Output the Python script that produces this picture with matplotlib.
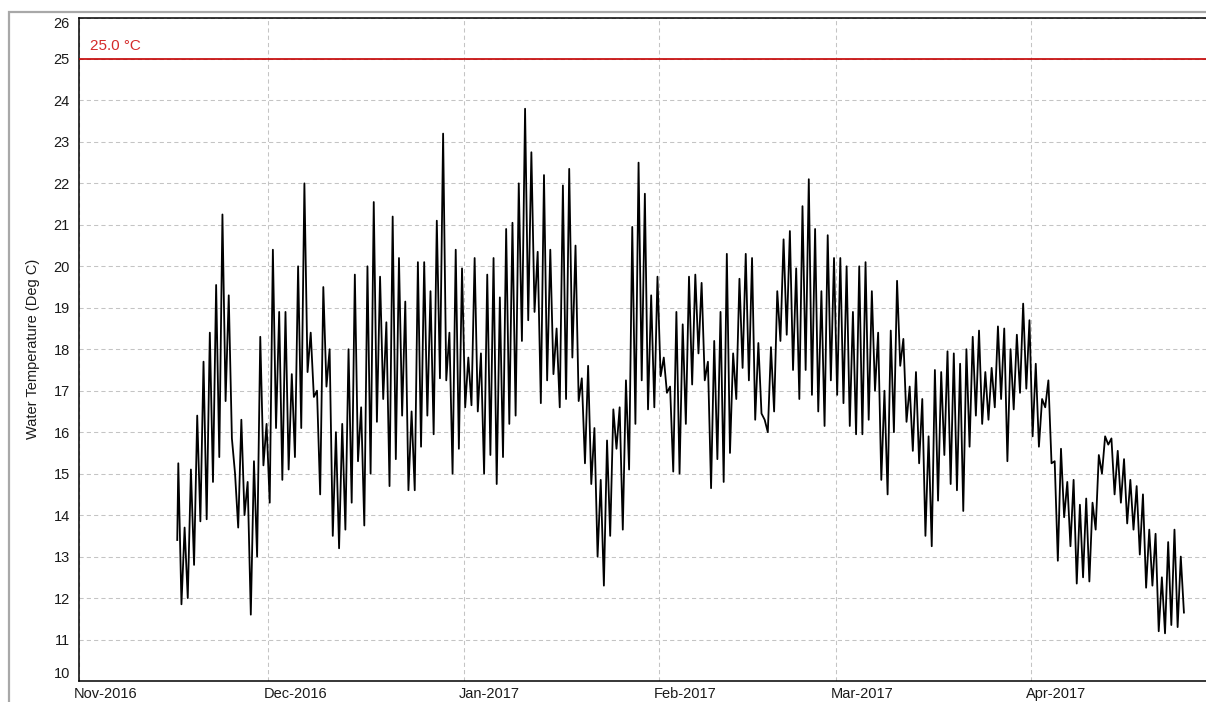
import numpy as np
import pandas as pd
import matplotlib
matplotlib.use("Agg")
import matplotlib.pyplot as plt
from matplotlib.patches import Rectangle

plt.rcParams['font.family'] = ['Liberation Sans', 'DejaVu Sans']

# daily peak and trough readings (deg C), one pair per day from 16 Nov 2016
day_high = [
    15.25, 13.7, 15.1, 16.4, 17.7, 18.4, 19.55, 21.25, 19.3, 15.0,
    16.3, 14.8, 15.3, 18.3, 16.2, 20.4, 18.9, 18.9, 17.4, 20.0,
    22.0, 18.4, 17.0, 19.5, 18.0, 16.0,
    16.2, 18.0, 19.8, 16.6, 20.0, 21.55, 19.75, 18.65, 21.2, 20.2,
    19.15, 16.5, 20.1, 20.1, 19.4, 21.1, 23.2, 18.4, 20.4, 19.95,
    17.8, 20.2, 17.9, 19.8, 20.2, 19.25, 20.9,
    21.05, 22.0, 23.8, 22.75, 20.35, 22.2, 20.4, 18.5, 21.95, 22.35,
    20.5, 17.3, 17.6, 16.1, 14.85, 15.8, 16.55, 16.6, 17.25, 20.95,
    22.5, 21.75, 19.3, 19.75, 17.8, 17.1, 18.9,
    18.6, 19.75, 19.8, 19.6, 17.7, 18.2, 18.9, 20.3, 17.9, 19.7,
    20.3, 20.2, 18.15, 16.3, 18.05, 19.4, 20.65, 20.85, 19.95, 21.45,
    22.1, 20.9, 19.4, 20.75, 20.2, 20.2, 20.0,
    18.9, 20.0, 20.1, 19.4, 18.4, 17.0, 18.45, 19.65, 18.25, 17.1,
    17.45, 16.8, 15.9, 17.5, 17.45, 17.95, 17.9, 17.65, 18.0, 18.3,
    18.45, 17.45, 17.55, 18.55, 18.5, 18.0, 18.35,
    19.1, 18.7, 17.65, 16.8, 17.25, 15.3, 15.6, 14.8, 14.85, 14.25,
    14.4, 14.3, 15.45, 15.9, 15.85, 15.55, 15.35, 14.85, 14.7, 14.5,
    13.65, 13.55, 12.5, 13.35, 13.65, 13.0,
]
day_low = [
    11.85, 12.0, 12.8, 13.85, 13.9, 14.8, 15.4, 16.75, 15.85, 13.7,
    14.0, 11.6, 13.0, 15.2, 14.3, 16.1, 14.85, 15.1, 15.4, 16.1,
    17.45, 16.85, 14.5, 17.1, 13.5, 13.2,
    13.65, 14.3, 15.3, 13.75, 15.0, 16.25, 16.8, 14.7, 15.35, 16.4,
    14.6, 14.6, 15.65, 16.4, 15.95, 17.3, 17.25, 15.0, 15.6, 16.6,
    16.65, 16.5, 15.0, 15.45, 14.75, 15.4, 16.2,
    16.4, 18.2, 18.7, 18.9, 16.7, 17.25, 17.4, 16.6, 16.8, 17.8,
    16.75, 15.25, 14.75, 13.0, 12.3, 13.5, 15.6, 13.65, 15.1, 16.2,
    17.25, 16.55, 16.6, 17.35, 16.95, 15.05, 15.0,
    16.2, 17.15, 17.9, 17.25, 14.65, 15.35, 14.8, 15.5, 16.8, 17.55,
    17.25, 16.3, 16.45, 16.0, 16.5, 18.2, 18.35, 17.5, 16.8, 17.5,
    16.9, 16.5, 16.15, 17.25, 16.9, 16.7, 16.15,
    15.95, 15.95, 16.3, 17.0, 14.85, 14.5, 16.0, 17.6, 16.25, 15.55,
    15.25, 13.5, 13.25, 14.35, 15.45, 14.75, 14.6, 14.1, 15.65, 16.4,
    16.2, 16.3, 16.6, 16.8, 15.3, 16.55, 16.95,
    17.05, 15.9, 15.65, 16.6, 15.25, 12.9, 13.95, 13.25, 12.35, 12.5,
    12.4, 13.65, 15.0, 15.7, 14.5, 14.3, 13.8, 13.65, 13.05, 12.25,
    12.3, 11.2, 11.15, 11.35, 11.3, 11.65,
]
first_reading = 13.4
limit_value = 25.0

month_starts = ['2016-11-01', '2016-12-01', '2017-01-01',
                '2017-02-01', '2017-03-01', '2017-04-01']
month_labels = ['Nov-2016', 'Dec-2016', 'Jan-2017',
                'Feb-2017', 'Mar-2017', 'Apr-2017']

# build the time series: high in the evening, low 12 h later
start = np.datetime64('2016-11-16T18:00')
n = len(day_high)
t_high = start + np.arange(n) * np.timedelta64(24, 'h')
t_low = t_high + np.timedelta64(12, 'h')
times = np.empty(2 * n, dtype='datetime64[m]')
times[0::2] = t_high
times[1::2] = t_low
vals = np.empty(2 * n)
vals[0::2] = day_high
vals[1::2] = day_low
times = np.concatenate([[start - np.timedelta64(4, 'h')], times])
vals = np.concatenate([[first_reading], vals])

W, H = 1206, 702
fig = plt.figure(figsize=(W / 100, H / 100), dpi=100)
ax = fig.add_axes([79 / W, 1 - 681 / H, (W - 79) / W, (681 - 17.5) / H])

x0 = pd.Timestamp('2016-11-01')
ax.set_xlim(x0, x0 + pd.Timedelta(days=178.75))
ax.set_ylim(10, 26)

ax.plot(times, vals, color='black', lw=1.3, zorder=3)
ax.axhline(limit_value, color='#c40000', lw=1.2, zorder=4)
ax.text(x0 + pd.Timedelta(days=1.75), limit_value + 0.32, '25.0 \u00b0C',
        color='#d42a2a', fontsize=11, va='center', ha='left')

ticks = pd.to_datetime(month_starts)
ax.set_xticks(ticks)
ax.set_xticklabels([])
for t, lbl in zip(ticks, month_labels):
    ax.annotate(lbl, xy=(t, 0), xycoords=('data', 'axes fraction'),
                xytext=(-3.5, -4), textcoords='offset points',
                ha='left', va='top', fontsize=10.5, color='#1a1a1a',
                annotation_clip=False)

ax.set_yticks(range(10, 27))
ax.tick_params(length=0, labelsize=10.5, labelcolor='#1a1a1a')
ax.tick_params(axis='y', pad=6.5)
ylabels = ax.get_yticklabels()
ylabels[0].set_va('bottom')
ylabels[-1].set_va('top')

ax.grid(True, color='#c4c4c4', linestyle=(0, (4, 3)), lw=0.75, zorder=0)
ax.set_ylabel('Water Temperature (Deg C)', fontsize=10.5, color='#1a1a1a',
              labelpad=10)

for side in ['left', 'bottom', 'top']:
    ax.spines[side].set_color('black')
    ax.spines[side].set_linewidth(1.1)
ax.spines['right'].set_visible(False)

# grey outer frame of the chart panel
fig.add_artist(Rectangle((9 / W, -0.1), 2.0, 1 - 12 / H + 0.1,
                         transform=fig.transFigure, fill=False,
                         edgecolor='#a8a8a8', lw=1.6))

fig.savefig('out.png', dpi=100)
